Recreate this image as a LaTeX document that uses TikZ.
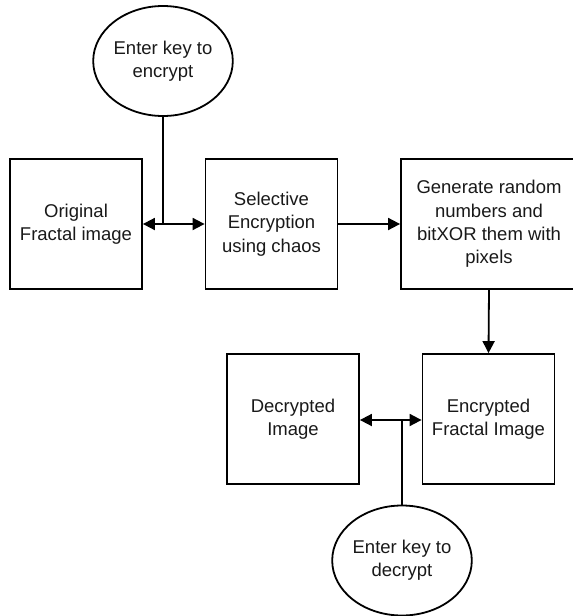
\documentclass[tikz,border=0pt]{standalone}
\usepackage{fontspec}
\setmainfont{Liberation Sans}
\usetikzlibrary{shapes.geometric,arrows.meta}
\begin{document}
\begin{tikzpicture}[x=1pt,y=-1pt,
  every node/.style={font=\fontsize{18.5}{23.4}\selectfont, align=center, text=black!90},
  block/.style={draw, line width=1.8pt, minimum width=132pt, minimum height=130pt, inner sep=0pt},
  keynode/.style={ellipse, draw, line width=1.8pt, minimum width=132pt, minimum height=110pt, inner sep=0pt},
  link/.style={line width=1.8pt},
  arr/.style={link, -{Triangle[length=12pt,width=12pt]}}]
  \useasboundingbox (0,0) rectangle (573,616);

  % encryption row
  \node[block] (orig) at (76,224) {Original\\Fractal image};
  \node[block] (sel) at (271.5,224) {Selective\\Encryption\\using chaos};
  \node[block, minimum width=176pt] (gen) at (489,224) {Generate random\\numbers and\\bitXOR them with\\pixels};
  \node[keynode] (key1) at (163,61) {Enter key to\\encrypt};
  \coordinate (j1) at (163,224);

  % decryption row
  \node[block] (enc) at (488.5,419) {Encrypted\\Fractal Image};
  \node[block] (dec) at (293,419) {Decrypted\\Image};
  \node[keynode] (key2) at (402,560.5) {Enter key to\\decrypt};
  \coordinate (j2) at (402,420);

  % connectors
  \draw[link] (key1.south) -- (j1);
  \draw[arr] (j1) -- (orig.east);
  \draw[arr] (j1) -- (sel.west);
  \draw[arr] (sel.east) -- (gen.west);
  \draw[arr] (gen.south) -- (enc.north);
  \draw[link] (key2.north) -- (j2);
  \draw[arr] (j2) -- (dec.east |- j2);
  \draw[arr] (j2) -- (enc.west |- j2);
\end{tikzpicture}
\end{document}
